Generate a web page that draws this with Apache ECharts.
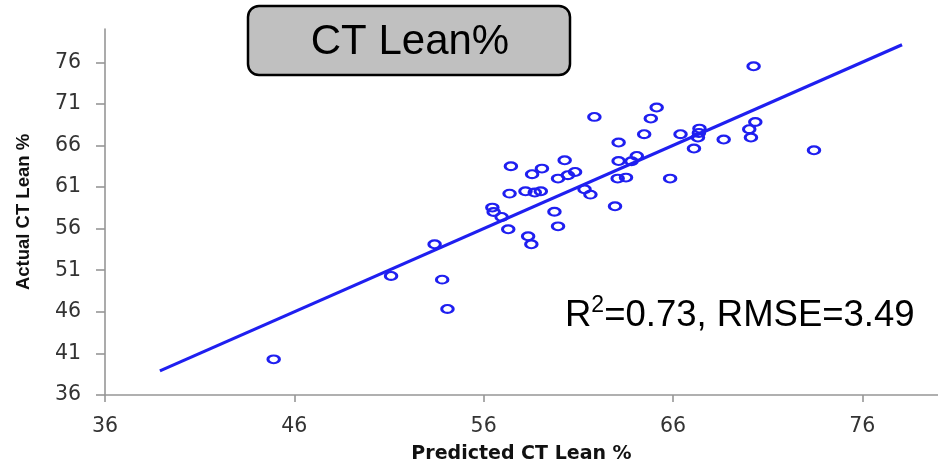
<!DOCTYPE html>
<html>
<head>
<meta charset="utf-8">
<script src="https://cdn.jsdelivr.net/npm/echarts@6/dist/echarts.min.js"></script>
<style>
  html, body { margin: 0; padding: 0; background: #fff; }
  #chart { width: 938px; height: 470px; }
</style>
</head>
<body>
<div id="chart"></div>
<script>
// Predicted vs. actual CT lean percentage
const predicted = [
  44.91, 51.11, 53.41, 53.81, 54.09, 56.46, 56.53, 56.95, 57.30, 57.37,
  57.44, 58.21, 58.35, 58.52, 58.56, 58.70, 59.02, 59.08, 59.74, 59.93,
  59.93, 60.28, 60.45, 60.83, 61.33, 61.64, 61.85, 62.94, 63.08, 63.13,
  63.13, 63.52, 63.81, 64.09, 64.48, 64.83, 65.14, 65.85, 66.40, 67.11,
  67.32, 67.37, 67.40, 68.68, 70.03, 70.12, 70.35, 70.26, 73.45
];
const actual = [
  40.29, 50.31, 54.12, 49.87, 46.34, 58.53, 58.00, 57.40, 55.92, 60.21,
  63.50, 60.49, 55.08, 54.12, 62.54, 60.34, 60.49, 63.22, 58.03, 56.28,
  62.02, 64.22, 62.42, 62.81, 60.73, 60.09, 69.43, 58.69, 62.02, 66.35,
  64.13, 62.14, 64.10, 64.74, 67.35, 69.23, 70.56, 62.02, 67.35, 65.63,
  66.95, 67.50, 68.03, 66.71, 67.95, 66.95, 68.82, 75.52, 65.42
];

// Fitted line end points
const fitX = [38.9, 78.1];
const fitY = [38.9, 78.1];

// Tick labels
const xTicks = [36, 46, 56, 66, 76];
const yTicks = [36, 41, 46, 51, 56, 61, 66, 71, 76];

const titleText = 'CT Lean%';
const xName = 'Predicted CT Lean %';
const yName = 'Actual CT Lean %';
const statR2 = '0.73';
const statRMSE = '3.49';

const BLUE = '#1f1ff0';
const AXIS = '#969696';

const chart = echarts.init(document.getElementById('chart'), null, { renderer: 'canvas' });

chart.setOption({
  animation: false,
  backgroundColor: '#ffffff',
  grid: { left: 105, top: 29, width: 837, height: 366 },
  xAxis: {
    type: 'value',
    min: 36, max: 80, interval: 10,
    name: xName,
    nameLocation: 'middle',
    nameGap: 50,
    nameTextStyle: { fontFamily: 'DejaVu Sans', fontWeight: 'bold', fontSize: 19, color: '#111' },
    axisLine: { show: true, lineStyle: { color: AXIS, width: 1.6 } },
    axisTick: { show: true, length: 7, lineStyle: { color: AXIS, width: 1.6 }, customValues: xTicks },
    axisLabel: { customValues: xTicks, margin: 21, fontFamily: 'DejaVu Sans', fontSize: 20.5, color: '#333' },
    splitLine: { show: false }
  },
  yAxis: {
    type: 'value',
    min: 36, max: 80, interval: 5,
    name: yName,
    nameLocation: 'middle',
    nameGap: 72,
    nameRotate: 90,
    nameTextStyle: { fontFamily: 'Liberation Sans', fontWeight: 'bold', fontSize: 18.5, color: '#111' },
    axisLine: { show: true, lineStyle: { color: AXIS, width: 1.6 } },
    axisTick: { show: true, length: 9, lineStyle: { color: AXIS, width: 1.6 }, customValues: yTicks },
    axisLabel: { customValues: yTicks, margin: 24, fontFamily: 'DejaVu Sans', fontSize: 20.5, color: '#333' },
    splitLine: { show: false }
  },
  series: [
    {
      type: 'scatter',
      data: predicted.map((x, i) => [x, actual[i]]),
      symbol: 'circle',
      symbolSize: [11.5, 7.8],
      itemStyle: { color: 'transparent', borderColor: BLUE, borderWidth: 2.5, opacity: 1 },
      z: 2
    },
    {
      type: 'line',
      data: fitX.map((x, i) => [x, fitY[i]]),
      showSymbol: false,
      lineStyle: { color: BLUE, width: 3.2 },
      z: 3
    }
  ],
  graphic: [
    {
      type: 'group',
      children: [
        {
          type: 'rect',
          shape: { x: 248, y: 6, width: 322, height: 69, r: 11 },
          style: { fill: '#c0c0c0', stroke: '#000', lineWidth: 2.5 }
        },
        {
          type: 'text',
          x: 410, y: 42,
          style: {
            text: titleText,
            font: '42px "Liberation Sans"',
            fill: '#000',
            align: 'center',
            verticalAlign: 'middle'
          }
        }
      ]
    },
    {
      type: 'text',
      x: 565, y: 314,
      style: {
        text: '{b|R}{s|2}{b|=' + statR2 + ', RMSE=' + statRMSE + '}',
        align: 'left',
        verticalAlign: 'middle',
        rich: {
          b: { fontFamily: 'Liberation Sans', fontSize: 36.5, fill: '#000', verticalAlign: 'bottom', lineHeight: 40 },
          s: { fontFamily: 'Liberation Sans', fontSize: 23, fill: '#000', verticalAlign: 'top', lineHeight: 40, padding: [0, 0, 14, 0] }
        }
      }
    }
  ]
});
</script>
</body>
</html>
